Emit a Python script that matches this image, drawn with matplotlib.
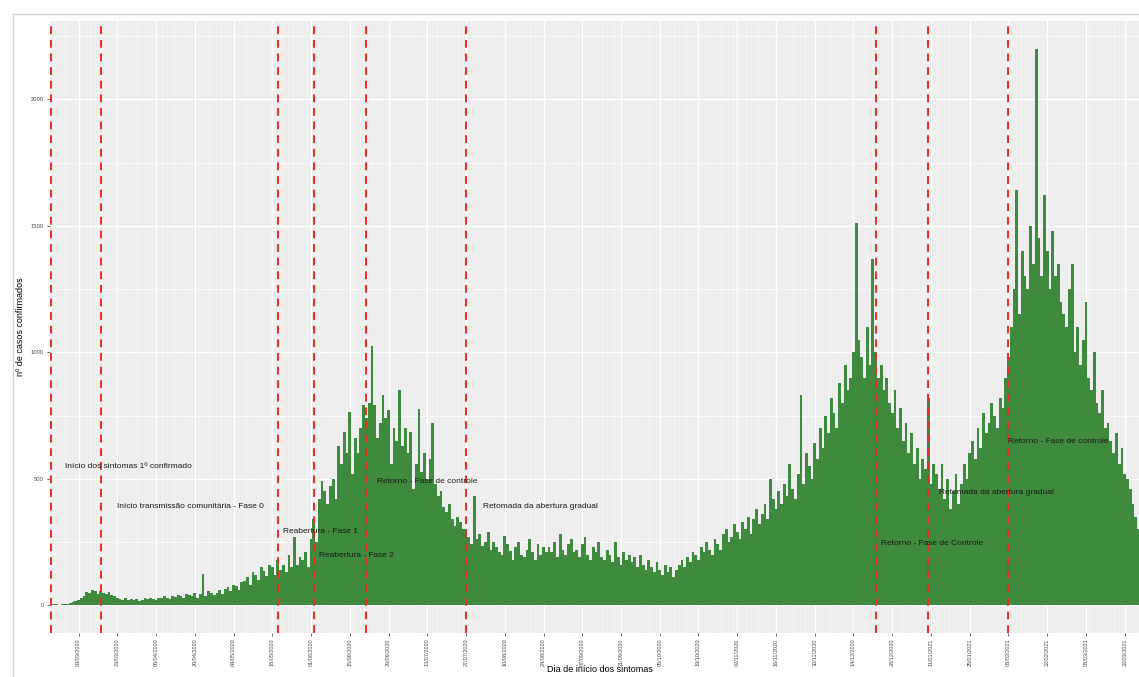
import matplotlib

matplotlib.use("Agg")

import matplotlib.dates as mdates
import matplotlib.pyplot as plt
import numpy as np
import pandas as pd
from matplotlib.patches import Rectangle


START_DATE = "2020-02-28"

# casos confirmados por dia de início dos sintomas
CASOS = [
    8, 3, 5, 2, 6, 4, 3, 8, 12, 15,
    20, 28, 35, 52, 48, 60, 55, 45, 58, 50,
    45, 52, 40, 38, 30, 25, 22, 28, 20, 24,
    20, 25, 18, 22, 28, 24, 30, 26, 22, 30,
    28, 35, 30, 25, 38, 32, 40, 35, 30, 45,
    40, 35, 50, 30, 45, 125, 38, 55, 48, 40,
    50, 60, 45, 65, 70, 55, 80, 75, 60, 90,
    95, 110, 80, 130, 120, 100, 150, 135, 115, 160,
    150, 120, 180, 140, 160, 130, 200, 150, 270, 160,
    190, 180, 210, 150, 260, 340, 250, 420, 490, 450,
    400, 470, 500, 420, 630, 560, 685, 600, 765, 520,
    660, 600, 700, 790, 740, 800, 1025, 790, 660, 720,
    830, 740, 770, 560, 700, 650, 850, 630, 700, 600,
    685, 460, 560, 775, 525, 600, 500, 580, 720, 480,
    430, 450, 390, 370, 400, 340, 315, 350, 330, 300,
    300, 270, 240, 430, 260, 280, 235, 250, 290, 220,
    250, 230, 210, 200, 275, 240, 215, 180, 230, 250,
    200, 190, 220, 260, 210, 180, 240, 200, 230, 210,
    230, 210, 250, 190, 280, 220, 200, 240, 260, 210,
    220, 190, 240, 270, 200, 180, 230, 210, 250, 190,
    180, 220, 200, 170, 250, 190, 160, 210, 180, 200,
    170, 190, 150, 200, 160, 140, 180, 150, 130, 170,
    140, 120, 160, 130, 150, 110, 140, 160, 180, 150,
    190, 170, 210, 200, 180, 230, 210, 250, 220, 200,
    260, 240, 220, 280, 300, 250, 270, 320, 290, 260,
    330, 300, 350, 280, 340, 380, 320, 360, 400, 340,
    500, 420, 380, 450, 400, 480, 430, 560, 460, 420,
    520, 830, 480, 600, 550, 500, 640, 580, 700, 620,
    750, 680, 820, 760, 700, 880, 800, 950, 850, 900,
    1000, 1510, 1050, 980, 900, 1100, 950, 1370, 1000, 900,
    950, 850, 900, 800, 760, 850, 700, 780, 650, 720,
    600, 680, 560, 620, 500, 580, 540, 820, 480, 560,
    520, 460, 560, 420, 500, 380, 450, 520, 400, 480,
    560, 500, 600, 650, 580, 700, 620, 760, 680, 720,
    800, 750, 700, 820, 780, 900, 980, 1100, 1250, 1640,
    1150, 1400, 1300, 1250, 1500, 1350, 2200, 1450, 1300, 1620,
    1400, 1250, 1480, 1300, 1350, 1200, 1150, 1100, 1250, 1350,
    1000, 1100, 950, 1050, 1200, 900, 850, 1000, 800, 760,
    850, 700, 720, 650, 600, 680, 560, 620, 520, 500,
    460, 400, 350, 300, 220, 180, 150, 120,
]

EVENTOS = [
    "2020-02-28", "2020-03-17", "2020-05-20", "2020-06-02", "2020-06-21",
    "2020-07-27", "2020-12-22", "2021-01-10", "2021-02-08",
]

ROTULOS = [
    "Início dos sintomas 1º confirmado",
    "Início transmissão comunitária - Fase 0",
    "Reabertura - Fase 1",
    "Reabertura - Fase 2",
    "Retorno - Fase de controle",
    "Retomada da abertura gradual",
    "Retorno - Fase de Controle",
    "Retomada da abertura gradual",
    "Retorno - Fase de controle",
]

# posição dos rótulos: dias após START_DATE e altura no eixo y
ROTULO_DIA = [5, 24, 84, 97, 118, 156, 300, 321, 346]
ROTULO_Y = [547, 392, 290, 195, 490, 392, 242, 444, 646]

PRIMEIRA_MARCA = "2020-03-09"


def set_font():
    plt.rcParams["font.family"] = ["Liberation Sans", "DejaVu Sans"]
    plt.rcParams["axes.unicode_minus"] = False


def plot_casos(output_path):
    datas = pd.date_range(START_DATE, periods=len(CASOS), freq="D")
    x = mdates.date2num(datas)
    casos = np.array(CASOS)

    fig = plt.figure(figsize=(11.39, 6.77), dpi=100)
    fig.patches.append(
        Rectangle((13 / 1139, -0.1), 1.2, (677 - 14) / 677 + 0.1,
                  transform=fig.transFigure, facecolor="white",
                  edgecolor="#d4d4d4", linewidth=1.0, zorder=-5)
    )

    ax = fig.add_axes([49.5 / 1139, 44 / 677, (1151 - 49.5) / 1139, 612 / 677])
    ax.set_facecolor("#ebebeb")

    # grade: linhas finas por dia, linhas maiores nas marcas
    marcas = pd.date_range(PRIMEIRA_MARCA, datas[-1], freq="14D")
    for d in x:
        ax.axvline(d, color="white", linewidth=0.35, zorder=0)
    for m in mdates.date2num(marcas):
        ax.axvline(m, color="white", linewidth=0.9, zorder=0)
    for v in range(250, 2500, 500):
        ax.axhline(v, color="white", linewidth=0.45, zorder=0)
    for v in range(0, 2500, 500):
        ax.axhline(v, color="white", linewidth=0.9, zorder=0)

    ax.bar(x, casos, width=1.0, color="#3e8a3e", linewidth=0, zorder=2)

    for evento in EVENTOS:
        ax.axvline(mdates.date2num(pd.Timestamp(evento)), color="#ee2a24",
                   linewidth=1.4, linestyle=(0, (4, 3)), zorder=3)

    for rotulo, dia, y in zip(ROTULOS, ROTULO_DIA, ROTULO_Y):
        ax.text(x[0] + dia, y, rotulo, fontsize=6, color="#1a1a1a",
                ha="left", va="center", zorder=4)

    ymax = casos.max() * 1.05
    ax.set_xlim(x[0] - 0.5, x[-1] + 0.5)
    ax.set_ylim(-casos.max() * 0.05, ymax)

    ax.set_xticks(mdates.date2num(marcas))
    ax.set_xticklabels([m.strftime("%d/%m/%Y") for m in marcas], rotation=90)
    ax.set_yticks([0, 500, 1000, 1500, 2000])
    ax.tick_params(axis="x", labelsize=4.0)
    ax.tick_params(axis="y", labelsize=4.2)
    ax.tick_params(axis="both", colors="#4d4d4d", length=2.5, width=0.6, pad=1.5)

    for spine in ax.spines.values():
        spine.set_visible(False)

    ax.set_xlabel("Dia de início dos sintomas", fontsize=6.5, labelpad=-0.8)
    ax.set_ylabel("nº de casos confirmados", fontsize=6.5, labelpad=4)

    fig.savefig(output_path, dpi=100)
    plt.close(fig)


def main():
    set_font()
    plot_casos("out.png")


if __name__ == "__main__":
    main()
